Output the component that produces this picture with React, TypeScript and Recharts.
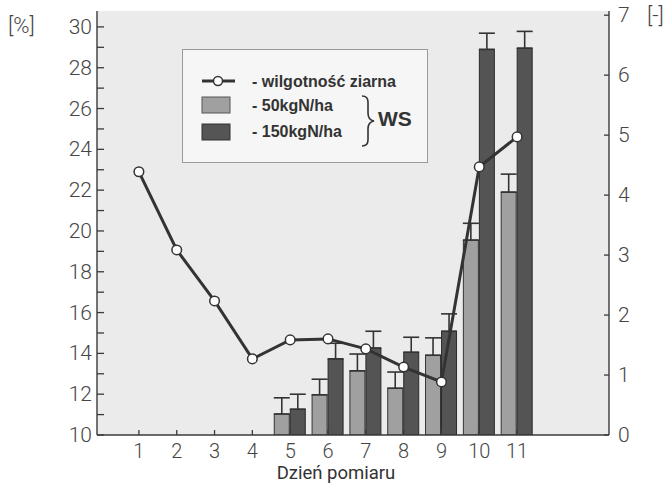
import React from 'react';
import { ComposedChart, Bar, Line, XAxis, YAxis, CartesianGrid, ErrorBar, Legend } from 'recharts';

const days = ['1', '2', '3', '4', '5', '6', '7', '8', '9', '10', '11'];
const moisture = [22.9, 19.07, 16.57, 13.73, 14.66, 14.71, 14.22, 13.33, 12.6, 23.14, 24.61];
const ws50 = [null, null, null, null, 0.35, 0.67, 1.07, 0.78, 1.33, 3.25, 4.05];
const ws50Err = [0, 0, 0, 0, 0.27, 0.26, 0.28, 0.27, 0.29, 0.28, 0.3];
const ws150 = [null, null, null, null, 0.43, 1.27, 1.45, 1.38, 1.73, 6.43, 6.45];
const ws150Err = [0, 0, 0, 0, 0.25, 0.26, 0.28, 0.25, 0.29, 0.27, 0.28];
const leftTicks = [10, 11, 12, 13, 14, 15, 16, 17, 18, 19, 20, 21, 22, 23, 24, 25, 26, 27, 28, 29, 30];
const rightTicks = [0, 1, 2, 3, 4, 5, 6, 7];
const seriesNames = ['- wilgotność ziarna', '- 50kgN/ha', '- 150kgN/ha'];
const groupLabel = 'WS';
const xLabel = 'Dzień pomiaru';

const data = days.map((d, i) => ({
  day: d,
  moisture: moisture[i],
  ws50: ws50[i],
  ws50Err: [0, ws50Err[i]],
  ws150: ws150[i],
  ws150Err: [0, ws150Err[i]],
}));

const FONT = "Roboto, 'DejaVu Sans', sans-serif";
const LFONT = "'Liberation Sans', Arial, sans-serif";
const TXT = '#454545';
const AX = '#3a3a3a';

const LeftTick = (props: any) => {
  const { x, y, payload } = props;
  const v = payload.value;
  return (
    <g>
      <line x1={x} y1={y} x2={x + 7} y2={y} stroke={AX} strokeWidth={1.3} />
      {v % 2 === 0 && (
        <text x={x - 5} y={y} textAnchor="end" dominantBaseline="central" fontSize={21} fontWeight={300} fill={TXT} fontFamily={FONT}>
          {v}
        </text>
      )}
    </g>
  );
};

const RightTick = (props: any) => {
  const { x, y, payload } = props;
  return (
    <g>
      <line x1={x - 5} y1={y} x2={x} y2={y} stroke={AX} strokeWidth={1.3} />
      <text x={x + 9} y={y} textAnchor="start" dominantBaseline="central" fontSize={21} fontWeight={300} fill={TXT} fontFamily={FONT}>
        {payload.value}
      </text>
    </g>
  );
};

const BottomTick = (props: any) => {
  const { x, y, payload } = props;
  return (
    <g>
      <line x1={x} y1={y} x2={x} y2={y - 5} stroke={AX} strokeWidth={1.3} />
      <text x={x} y={y + 22.5} textAnchor="middle" fontSize={20} fontWeight={300} fill={TXT} fontFamily={FONT}>
        {payload.value}
      </text>
    </g>
  );
};

const LegendBox = () => (
  <svg width={248} height={116} style={{ display: 'block' }}>
    <rect x={0.5} y={0.5} width={245} height={113} fill="#f6f6f6" stroke="#9a9a9a" strokeWidth={1} />
    <line x1={20} y1={32} x2={53} y2={32} stroke="#333" strokeWidth={3} />
    <circle cx={36} cy={32} r={4.5} fill="#fff" stroke="#333" strokeWidth={1.5} />
    <text x={70} y={38} fontSize={16} fontWeight={700} fill="#333" fontFamily={LFONT}>{seriesNames[0]}</text>
    <rect x={20} y={48} width={28} height={16} fill="#a0a0a0" stroke="#555" strokeWidth={1} />
    <text x={70} y={62} fontSize={16} fontWeight={700} fill="#333" fontFamily={LFONT}>{seriesNames[1]}</text>
    <rect x={20} y={75} width={28} height={16} fill="#555" stroke="#333" strokeWidth={1} />
    <text x={70} y={88} fontSize={16} fontWeight={700} fill="#333" fontFamily={LFONT}>{seriesNames[2]}</text>
    <path d="M180,47 q6,0 6,6 v11 q0,7 6,8 q-6,1 -6,8 v11 q0,6 -6,6" fill="none" stroke="#333" strokeWidth={1.6} />
    <text x={196} y={77} fontSize={21} fontWeight={700} fill="#333" fontFamily={LFONT}>{groupLabel}</text>
  </svg>
);

export default function App() {
  return (
    <div style={{ position: 'absolute', left: 0, top: 0, width: 672, height: 497, background: '#fff' }}>
      <ComposedChart width={672} height={497} data={data} margin={{ top: 11, right: 0, bottom: 0, left: 0 }} barSize={15} barGap={1}>
        <CartesianGrid fill="#ebebeb" horizontal={false} vertical={false} />
        <XAxis
          dataKey="day"
          xAxisId={0}
          height={62}
          padding={{ left: 23, right: 73 }}
          tick={<BottomTick />}
          tickLine={false}
          tickSize={0}
          tickMargin={0}
          interval={0}
          axisLine={{ stroke: AX, strokeWidth: 1.4 }}
        />
        <XAxis
          dataKey="day"
          xAxisId="top"
          orientation="top"
          height={0}
          tick={false}
          tickLine={false}
          axisLine={{ stroke: AX, strokeWidth: 1.4 }}
        />
        <YAxis
          yAxisId="left"
          orientation="left"
          width={97}
          domain={[10, 30.78]}
          ticks={leftTicks}
          interval={0}
          allowDataOverflow
          tick={<LeftTick />}
          tickLine={false}
          tickSize={0}
          tickMargin={0}
          axisLine={{ stroke: AX, strokeWidth: 1.4 }}
        />
        <YAxis
          yAxisId="right"
          orientation="right"
          width={63}
          domain={[0, 7.07]}
          ticks={rightTicks}
          interval={0}
          allowDataOverflow
          tick={<RightTick />}
          tickLine={false}
          tickSize={0}
          tickMargin={0}
          axisLine={{ stroke: AX, strokeWidth: 1.4 }}
        />
        <Legend
          layout="horizontal"
          verticalAlign="middle"
          align="center"
          wrapperStyle={{ position: 'absolute', left: 182, top: 49, width: 248, height: 116 }}
          content={() => <LegendBox />}
        />
        <Line
          dataKey="moisture"
          name={seriesNames[0]}
          yAxisId="left"
          type="linear"
          stroke="#333"
          strokeWidth={3}
          dot={false}
          activeDot={false}
          legendType="none"
          isAnimationActive={false}
        />
        <Bar dataKey="ws50" name={seriesNames[1]} yAxisId="right" fill="#a0a0a0" stroke="#333" strokeWidth={1} isAnimationActive={false}>
          <ErrorBar dataKey="ws50Err" width={8} stroke="#333" strokeWidth={1.6} direction="y" />
        </Bar>
        <Bar dataKey="ws150" name={seriesNames[2]} yAxisId="right" fill="#545454" stroke="#2a2a2a" strokeWidth={1} isAnimationActive={false}>
          <ErrorBar dataKey="ws150Err" width={8} stroke="#333" strokeWidth={1.6} direction="y" />
        </Bar>
        <Line
          dataKey="moisture"
          name={seriesNames[0]}
          yAxisId="left"
          type="linear"
          stroke="none"
          strokeWidth={0}
          dot={{ r: 4.8, fill: '#fff', stroke: '#333', strokeWidth: 1.5 }}
          activeDot={false}
          isAnimationActive={false}
        />
      </ComposedChart>
      <div style={{ position: 'absolute', left: 8, top: 13, fontSize: 22, fontWeight: 300, color: TXT, fontFamily: FONT }}>[%]</div>
      <div style={{ position: 'absolute', left: 647, top: 3, fontSize: 22, fontWeight: 300, color: TXT, fontFamily: FONT }}>[-]</div>
      <div style={{ position: 'absolute', left: 0, width: 672, top: 464, lineHeight: '19px', textAlign: 'center', fontSize: 18.5, color: '#333', fontFamily: FONT }}>
        {xLabel}
      </div>
    </div>
  );
}
